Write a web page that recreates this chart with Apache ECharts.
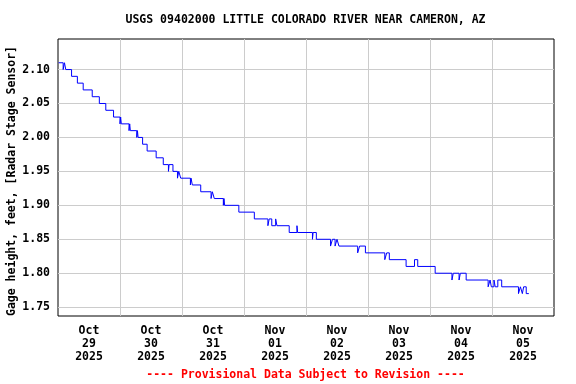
<!DOCTYPE html>
<html><head><meta charset="utf-8">
<script src="https://cdn.jsdelivr.net/npm/echarts@6/dist/echarts.min.js"></script>
<style>html,body{margin:0;padding:0;background:#fff}#c{width:576px;height:384px}</style>
</head><body><div id="c"></div>
<script>
const titleText = "USGS 09402000 LITTLE COLORADO RIVER NEAR CAMERON, AZ";
const yAxisName = "Gage height, feet, [Radar Stage Sensor]";
const footerText = "---- Provisional Data Subject to Revision ----";
const dayLabels = ["Oct\n29\n2025","Oct\n30\n2025","Oct\n31\n2025","Nov\n01\n2025","Nov\n02\n2025","Nov\n03\n2025","Nov\n04\n2025","Nov\n05\n2025"];
const yTicks = [1.75, 1.80, 1.85, 1.90, 1.95, 2.00, 2.05, 2.10];
const yMin = 1.737, yMax = 2.145;
const xStart = "2025-10-29 00:00", xEnd = "2025-11-06 00:00";

const stepTimes = [
 "2025-10-29 00:15","2025-10-29 02:00","2025-10-29 02:30","2025-10-29 03:00","2025-10-29 05:15","2025-10-29 07:30","2025-10-29 09:45","2025-10-29 13:15","2025-10-29 16:00","2025-10-29 18:30","2025-10-29 21:30",
 "2025-10-30 00:00","2025-10-30 00:15","2025-10-30 00:30","2025-10-30 03:30","2025-10-30 03:45","2025-10-30 04:00","2025-10-30 06:30","2025-10-30 06:45","2025-10-30 07:00","2025-10-30 08:45","2025-10-30 10:30","2025-10-30 14:00","2025-10-30 16:45","2025-10-30 18:45","2025-10-30 19:00","2025-10-30 20:30","2025-10-30 22:15","2025-10-30 22:45","2025-10-30 23:30",
 "2025-10-31 03:15","2025-10-31 03:30","2025-10-31 04:00","2025-10-31 07:15","2025-10-31 11:15","2025-10-31 11:45","2025-10-31 12:30","2025-10-31 16:00","2025-10-31 16:15","2025-10-31 16:30","2025-10-31 22:00",
 "2025-11-01 04:00","2025-11-01 09:15","2025-11-01 09:45","2025-11-01 10:45","2025-11-01 12:15","2025-11-01 12:45","2025-11-01 17:30","2025-11-01 20:30","2025-11-01 20:45",
 "2025-11-02 02:30","2025-11-02 02:45","2025-11-02 04:00","2025-11-02 09:30","2025-11-02 10:15","2025-11-02 11:15","2025-11-02 12:00","2025-11-02 12:45","2025-11-02 20:00","2025-11-02 20:45","2025-11-02 23:00",
 "2025-11-03 06:30","2025-11-03 07:15","2025-11-03 08:15","2025-11-03 14:45","2025-11-03 18:00","2025-11-03 19:15",
 "2025-11-04 02:00","2025-11-04 08:30","2025-11-04 09:00","2025-11-04 11:15","2025-11-04 11:45","2025-11-04 14:00","2025-11-04 22:30","2025-11-04 23:15","2025-11-04 23:45",
 "2025-11-05 00:45","2025-11-05 01:15","2025-11-05 02:15","2025-11-05 03:45","2025-11-05 10:15","2025-11-05 11:00","2025-11-05 11:45","2025-11-05 12:15","2025-11-05 13:15","2025-11-05 14:15"
];
const stepValues = [
 2.11,2.10,2.11,2.10,2.09,2.08,2.07,2.06,2.05,2.04,2.03,
 2.02,2.03,2.02,2.01,2.02,2.01,2.00,2.01,2.00,1.99,1.98,1.97,1.96,1.95,1.96,1.95,1.94,1.95,1.94,
 1.93,1.94,1.93,1.92,1.91,1.92,1.91,1.90,1.91,1.90,1.89,
 1.88,1.87,1.88,1.87,1.88,1.87,1.86,1.87,1.86,
 1.85,1.86,1.85,1.84,1.85,1.84,1.85,1.84,1.83,1.84,1.83,
 1.82,1.83,1.82,1.81,1.82,1.81,
 1.80,1.79,1.80,1.79,1.80,1.79,1.78,1.79,1.78,
 1.79,1.78,1.79,1.78,1.77,1.78,1.77,1.78,1.77,1.77
];

function toMs(s) {
  const m = s.match(/(\d+)-(\d+)-(\d+) (\d+):(\d+)/);
  return Date.UTC(+m[1], +m[2]-1, +m[3], +m[4], +m[5]);
}
const DAY = 86400000;
const t0 = toMs(xStart), t1 = toMs(xEnd);
const seriesData = stepTimes.map((t, i) => [toMs(t), stepValues[i]]);
const labelPos = dayLabels.map((_, i) => t0 + i * DAY + DAY / 2);
const gridPos = dayLabels.map((_, i) => t0 + i * DAY).slice(1);

const FONT = "'DejaVu Sans Mono', monospace";
const chart = echarts.init(document.getElementById('c'), null, {renderer: 'canvas'});
chart.setOption({
  animation: false,
  backgroundColor: '#fff',
  grid: {left: 58, right: 22, top: 39, bottom: 68, containLabel: false, outerBoundsMode: 'none',
         show: true, borderColor: '#000', borderWidth: 1, backgroundColor: 'transparent'},
  xAxis: {
    type: 'value', min: t0, max: t1,
    axisLine: {show: false},
    axisTick: {show: false, customValues: gridPos},
    splitLine: {show: true, lineStyle: {color: '#cccccc', width: 1}},
    axisLabel: {
      customValues: labelPos,
      margin: 9, lineHeight: 13,
      fontFamily: FONT, fontWeight: 'bold', fontSize: 11.5, color: '#000',
      formatter: v => dayLabels[Math.round((v - t0 - DAY / 2) / DAY)]
    }
  },
  yAxis: {
    type: 'value', min: yMin, max: yMax,
    axisLine: {show: false},
    axisTick: {show: false, customValues: yTicks},
    splitLine: {show: true, lineStyle: {color: '#cccccc', width: 1}},
    axisLabel: {
      customValues: yTicks, margin: 8,
      fontFamily: FONT, fontWeight: 'bold', fontSize: 11.5, color: '#000',
      formatter: v => v.toFixed(2)
    }
  },
  graphic: [
    {type: 'text', x: 305.5, y: 20, style: {text: titleText, font: "bold 11.5px " + FONT, fill: '#000', textAlign: 'center', textVerticalAlign: 'middle'}},
    {type: 'text', x: 12.5, y: 181, rotation: Math.PI / 2, style: {text: yAxisName, font: "bold 11.5px " + FONT, fill: '#000', textAlign: 'center', textVerticalAlign: 'middle'}},
    {type: 'text', x: 305.5, y: 375, style: {text: footerText, font: "bold 11.5px " + FONT, fill: '#ff0000', textAlign: 'center', textVerticalAlign: 'middle'}}
  ],
  series: [{
    type: 'line', step: 'end', data: seriesData, showSymbol: false, symbol: 'none',
    lineStyle: {color: '#0000ff', width: 1}, silent: true
  }]
});
</script></body></html>
